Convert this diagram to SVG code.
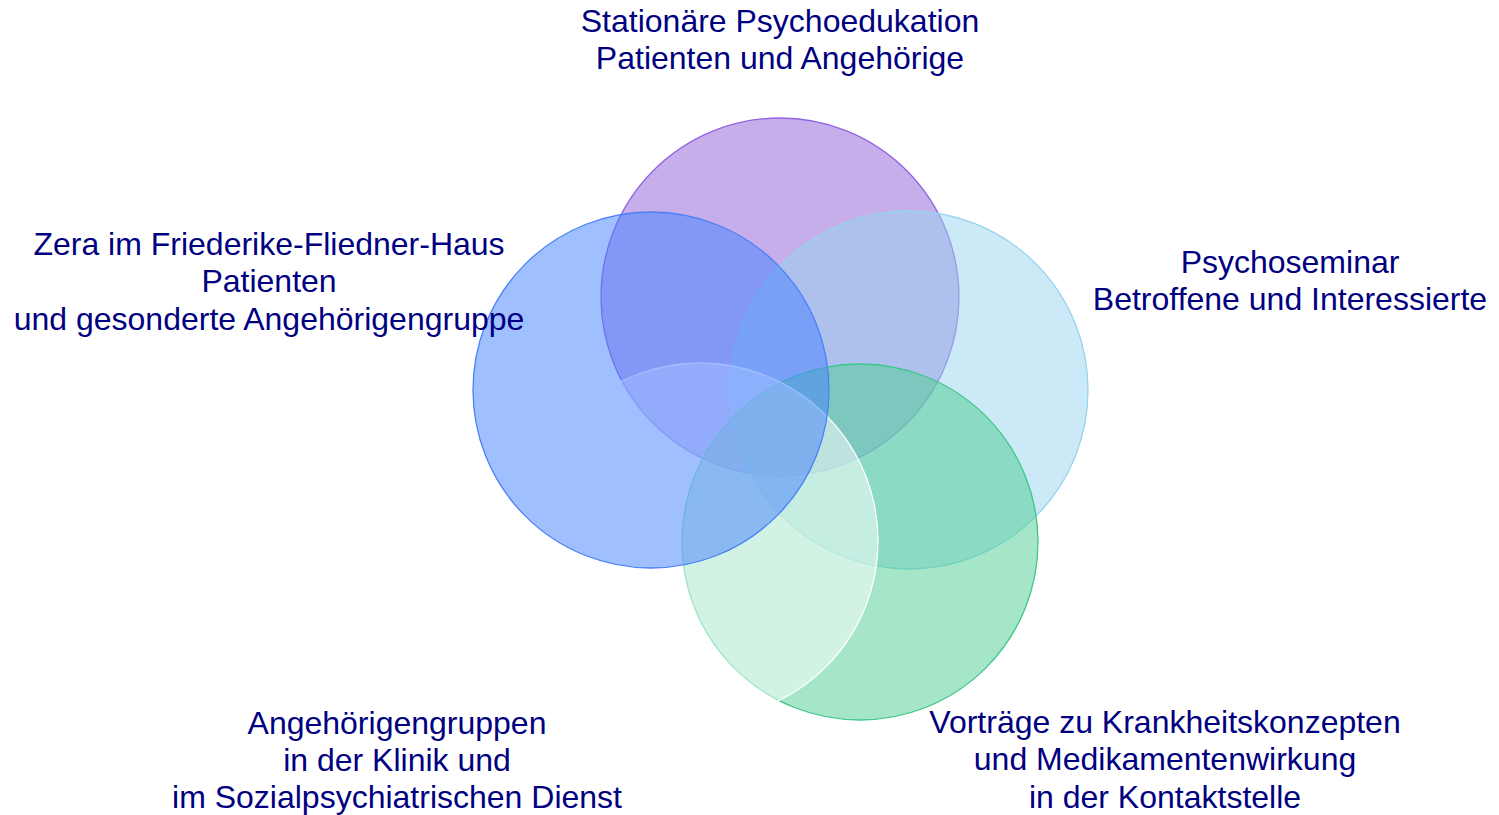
<svg xmlns="http://www.w3.org/2000/svg" width="1499" height="815" viewBox="0 0 1499 815">
<style>
.c{stroke-width:1.3}
.t{font-family:"Liberation Sans",Arial,sans-serif;font-size:32px;fill:#000080;text-anchor:middle}
</style>
<rect width="1499" height="815" fill="#ffffff"/>
<g id="connectors"></g>
<g id="node-stationaer">
<circle class="c" cx="780" cy="297" r="179" fill="#8b5dd5" fill-opacity="0.5" stroke="#9263e2"/>
</g>
<g id="node-psychoseminar">
<circle class="c" cx="909" cy="390" r="179" fill="#97d3ef" fill-opacity="0.5" stroke="#96d4ee"/>
</g>
<g id="node-vortraege">
<circle class="c" cx="860" cy="542" r="178" fill="#4bcd91" fill-opacity="0.5" stroke="#3ec78b"/>
</g>
<g id="node-angehoerigengruppen">
<circle class="c" cx="700" cy="541" r="178" fill="#ffffff" fill-opacity="0.5" stroke="#ffffff"/>
</g>
<g id="node-zera">
<circle class="c" cx="651" cy="390" r="178" fill="#417fff" fill-opacity="0.5" stroke="#4a80f8"/>
</g>
<g id="labels">
<text class="t" x="780" y="32">Stationäre Psychoedukation</text>
<text class="t" x="780" y="69">Patienten und Angehörige</text>
<text class="t" x="269" y="255">Zera im Friederike-Fliedner-Haus</text>
<text class="t" x="269" y="292">Patienten</text>
<text class="t" x="269" y="330">und gesonderte Angehörigengruppe</text>
<text class="t" x="1290" y="273">Psychoseminar</text>
<text class="t" x="1290" y="310">Betroffene und Interessierte</text>
<text class="t" x="397" y="734">Angehörigengruppen</text>
<text class="t" x="397" y="771">in der Klinik und</text>
<text class="t" x="397" y="808">im Sozialpsychiatrischen Dienst</text>
<text class="t" x="1165" y="733">Vorträge zu Krankheitskonzepten</text>
<text class="t" x="1165" y="770">und Medikamentenwirkung</text>
<text class="t" x="1165" y="808">in der Kontaktstelle</text>
</g>
</svg>
